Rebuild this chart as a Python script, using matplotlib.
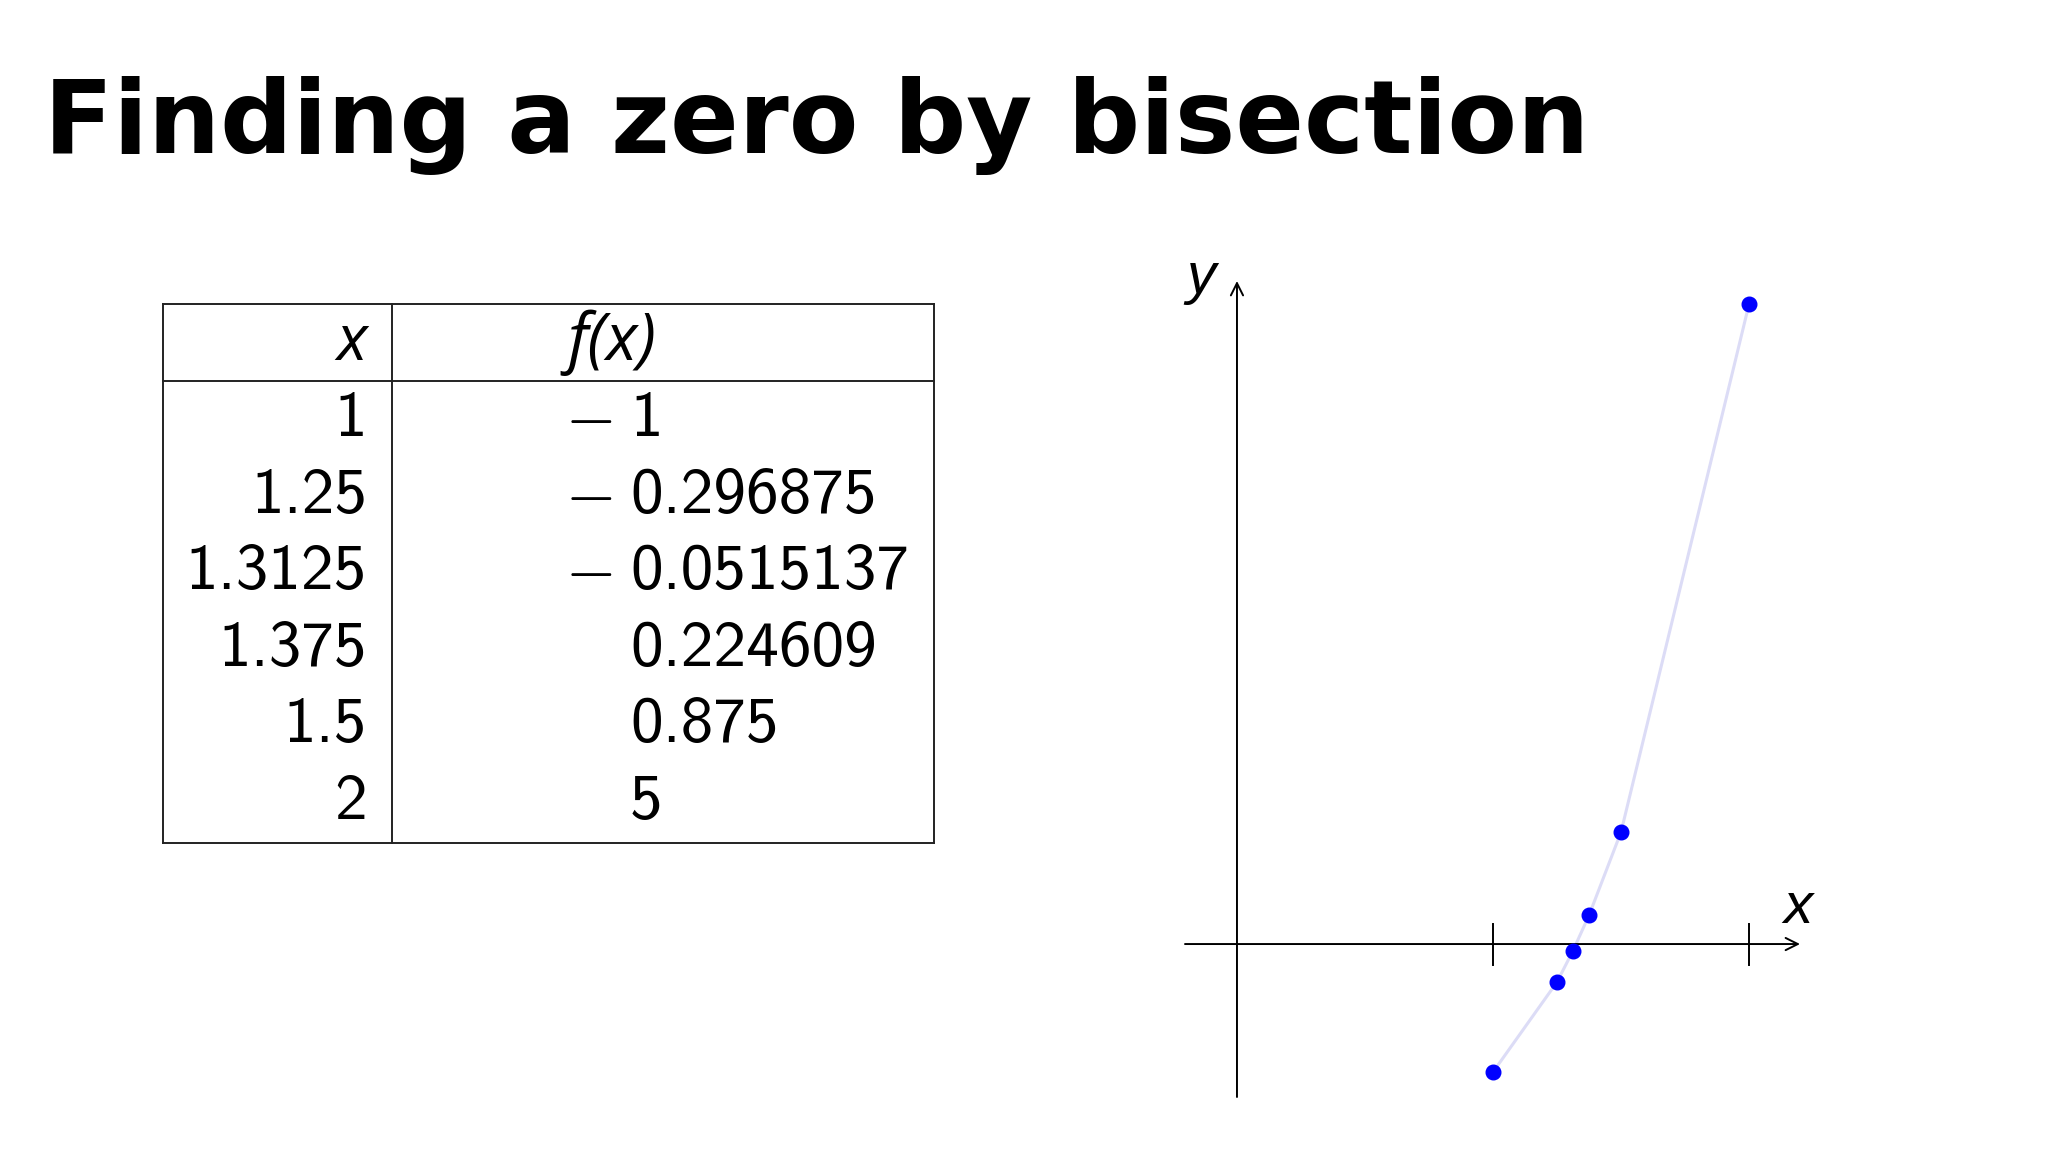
import matplotlib.pyplot as plt
from matplotlib.lines import Line2D

# data: bisection steps for f(x) = x^3 - x - 1
x_vals = [1, 1.25, 1.3125, 1.375, 1.5, 2]
f_vals = [-1, -0.296875, -0.0515137, 0.224609, 0.875, 5]
x_labels = ["1", "1.25", "1.3125", "1.375", "1.5", "2"]
f_labels = ["1", "0.296875", "0.0515137", "0.224609", "0.875", "5"]
x_ticks = [1, 2]

W, H = 2048, 1152
fig = plt.figure(figsize=(W / 100, H / 100), dpi=100)
fig.patch.set_facecolor("white")

# title
fig.text(44 / W, 1 - 153 / H, "Finding a zero by bisection", fontsize=73,
         family="DejaVu Sans", weight="bold", va="baseline", ha="left")

# table drawn in pixel coords
tab = fig.add_axes([0, 0, 1, 1])
tab.set_xlim(0, W)
tab.set_ylim(H, 0)
tab.axis("off")

left, mid, right = 163, 392, 934
top, head, bottom = 304, 381, 843
lc = "#222222"
for xx in (left, mid, right):
    tab.add_line(Line2D([xx, xx], [top, bottom], color=lc, lw=1.4))
for yy in (top, head, bottom):
    tab.add_line(Line2D([left, right], [yy, yy], color=lc, lw=1.4))

tab.text(367, 343, "x", fontsize=46, family="Open Sans", style="italic",
         ha="right", va="center")
tab.text(612, 343, "f(x)", fontsize=47, family="Open Sans", style="italic",
         ha="center", va="center")

row0, row_h = 420, 76.6
for i, (xl, fl, fv) in enumerate(zip(x_labels, f_labels, f_vals)):
    yc = row0 + i * row_h
    tab.text(367, yc, xl, fontsize=47, family="cmss10", ha="right", va="center")
    tab.text(630, yc, fl, fontsize=47, family="cmss10", ha="left", va="center")
    if fv < 0:
        tab.text(589, yc - 2, r"$-$", fontsize=47, math_fontfamily="cm",
                 ha="center", va="center")

# plot
ax = fig.add_axes([1185 / W, 55 / H, 615 / W, 816 / H])
ax.set_xlim(-0.203, 2.199)
ax.set_ylim(-1.195, 5.18)
ax.axis("off")

arrow = dict(arrowstyle="->", lw=1.4, color="black", mutation_scale=22,
             shrinkA=0, shrinkB=0)
ax.annotate("", xy=(2.199, 0), xytext=(-0.203, 0), arrowprops=arrow)
ax.annotate("", xy=(0, 5.18), xytext=(0, -1.195), arrowprops=arrow)
for t in x_ticks:
    ax.plot([t, t], [-0.16, 0.16], color="black", lw=1.4)

ax.plot(x_vals, f_vals, color="#dcdcf6", lw=2.2, zorder=2)
ax.plot(x_vals, f_vals, "o", color="#0000ff", ms=10.5, ls="none", zorder=3,
        clip_on=False)

ax.text(2.19, 0.28, "x", fontsize=42, family="Liberation Sans",
        style="italic", ha="center", va="center")
ax.text(-0.14, 5.2, "y", fontsize=42, family="Liberation Sans",
        style="italic", ha="center", va="center")

fig.savefig("out.png", dpi=100, facecolor="white")
